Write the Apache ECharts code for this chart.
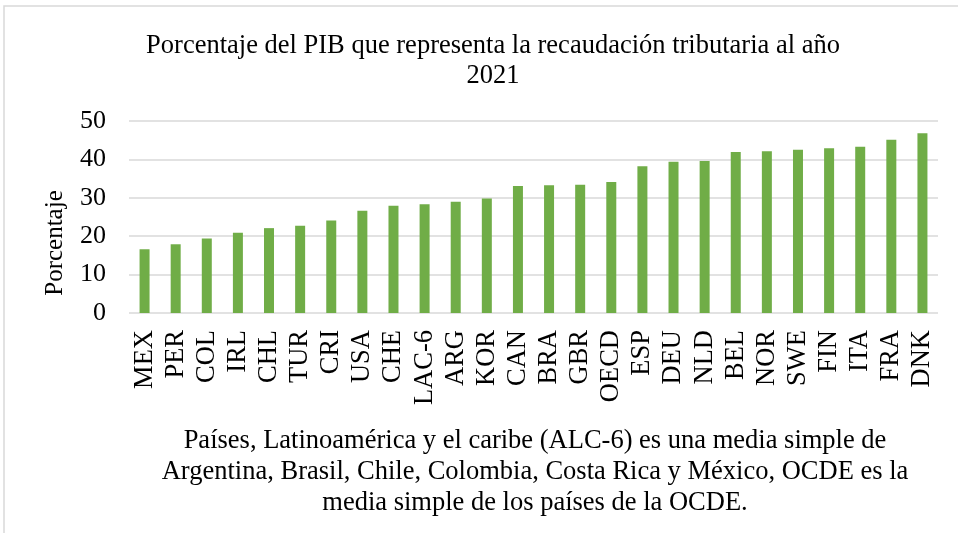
<!DOCTYPE html>
<html lang="es">
<head>
    <meta charset="UTF-8">
    <title>Recaudación tributaria 2021</title>
    <script src="https://cdn.jsdelivr.net/npm/echarts@6/dist/echarts.min.js"></script>
    <style>
        html, body { margin: 0; padding: 0; background: #fff; }
        #chart { width: 958px; height: 533px; }
    </style>
</head>
<body>
    <div id="chart"></div>
    <script type="text/javascript">
        // datos: % del PIB, año 2021
        var paises = ['MEX', 'PER', 'COL', 'IRL', 'CHL', 'TUR', 'CRI', 'USA', 'CHE', 'LAC-6', 'ARG', 'KOR', 'CAN',
            'BRA', 'GBR', 'OECD', 'ESP', 'DEU', 'NLD', 'BEL', 'NOR', 'SWE', 'FIN', 'ITA', 'FRA', 'DNK'];
        var porcentaje = [16.6, 17.9, 19.4, 20.9, 22.1, 22.7, 24.1, 26.6, 27.9, 28.3, 29.0, 29.8, 33.1,
            33.3, 33.4, 34.1, 38.2, 39.4, 39.6, 41.9, 42.1, 42.5, 42.9, 43.3, 45.1, 46.8];
        var ticksY = [0, 10, 20, 30, 40, 50];

        var fuente = '"Liberation Serif", "Times New Roman", serif';
        var myChart = echarts.init(document.getElementById('chart'));

        var option = {
            animation: false,
            textStyle: { fontFamily: fuente, color: '#000' },
            title: {
                text: 'Porcentaje del PIB que representa la recaudación tributaria al año\n2021',
                left: 488,
                top: 26,
                textAlign: 'center',
                textStyle: { fontFamily: fuente, fontSize: 26.5, fontWeight: 'normal', color: '#000', lineHeight: 30 }
            },
            grid: { left: 129, right: 20, top: 121, bottom: 220 },
            xAxis: {
                type: 'category',
                data: paises,
                axisLine: { show: false },
                axisTick: { show: false },
                axisLabel: { rotate: 90, interval: 0, margin: 17, fontSize: 26.5, fontFamily: fuente, color: '#000' }
            },
            yAxis: {
                type: 'value',
                min: ticksY[0],
                max: ticksY[ticksY.length - 1],
                interval: 10,
                axisLabel: { margin: 23, fontSize: 26, fontFamily: fuente, color: '#000' },
                splitLine: { lineStyle: { color: '#d9d9d9', width: 1.5 } }
            },
            series: [{
                type: 'bar',
                data: porcentaje,
                barWidth: 10,
                itemStyle: { color: '#70ad47' }
            }],
            graphic: [
                {
                    type: 'rect',
                    shape: { x: 4, y: 6, width: 960, height: 530 },
                    style: { fill: 'none', stroke: '#d9d9d9', lineWidth: 1.5 }
                },
                {
                    type: 'text',
                    x: 55,
                    y: 243,
                    rotation: Math.PI / 2,
                    style: {
                        text: 'Porcentaje',
                        textAlign: 'center',
                        textVerticalAlign: 'middle',
                        font: '25px ' + fuente,
                        fill: '#000'
                    }
                },
                {
                    type: 'text',
                    x: 535,
                    y: 426,
                    style: {
                        text: 'Países, Latinoamérica y el caribe (ALC-6) es una media simple de\nArgentina, Brasil, Chile, Colombia, Costa Rica y México, OCDE es la\nmedia simple de los países de la OCDE.',
                        textAlign: 'center',
                        font: '26.5px ' + fuente,
                        lineHeight: 31,
                        fill: '#000'
                    }
                }
            ]
        };
        myChart.setOption(option);
    </script>
</body>
</html>
